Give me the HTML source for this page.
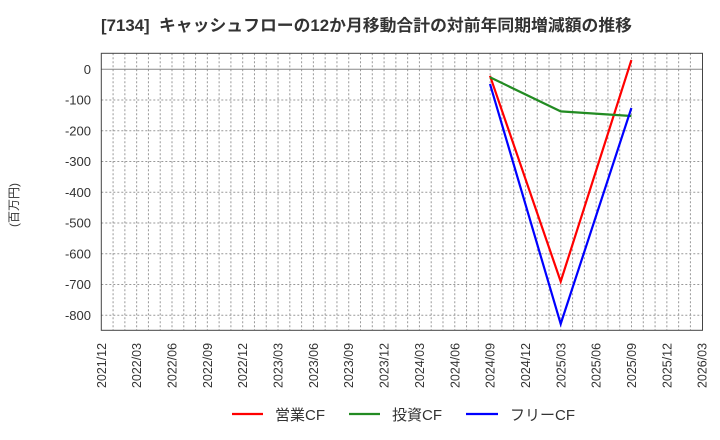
<!DOCTYPE html>
<html><head><meta charset="utf-8"><style>
html,body{margin:0;padding:0;background:#fff;}
svg{display:block;}
text{font-family:"Liberation Sans","Noto Sans CJK JP",sans-serif;}
</style></head><body>
<svg width="720" height="440" viewBox="0 0 720 440" xmlns="http://www.w3.org/2000/svg">
<rect width="720" height="440" fill="#fff"/>
<text x="101" y="31" font-size="16.5" font-weight="bold" fill="#333" textLength="531" lengthAdjust="spacingAndGlyphs">[7134]&#160; キャッシュフローの12か月移動合計の対前年同期増減額の推移</text>
<g id="vgrid" stroke="#999" stroke-width="1" stroke-dasharray="2,2"></g>
<g id="hgrid" stroke="#999" stroke-width="1" stroke-dasharray="2,2"></g>
<line x1="101.3" y1="69.3" x2="702.5" y2="69.3" stroke="#888" stroke-width="1"/>
<rect x="101.3" y="53.3" width="601.2" height="277" fill="none" stroke="#444" stroke-width="1"/>
<g id="ylab" font-size="13" fill="#333" text-anchor="end"></g>
<g id="xlab" font-size="12.5" fill="#333"></g>
<text transform="translate(18,205) rotate(-90)" font-size="12" fill="#333" text-anchor="middle">(百万円)</text>
<polyline points="490,75.8 560.7,281.5 631.4,60.1" fill="none" stroke="#ff0000" stroke-width="2.2"/>
<polyline points="490,77.3 560.7,111.4 631.4,116" fill="none" stroke="#228b22" stroke-width="2.2"/>
<polyline points="490,84 560.7,323.9 631.4,108" fill="none" stroke="#0000ff" stroke-width="2.2"/>
<line x1="232" y1="414" x2="263" y2="414" stroke="#ff0000" stroke-width="2.2"/>
<text x="275" y="420" font-size="15" fill="#333">営業CF</text>
<line x1="349" y1="414" x2="380" y2="414" stroke="#228b22" stroke-width="2.2"/>
<text x="392" y="420" font-size="15" fill="#333">投資CF</text>
<line x1="466" y1="414" x2="498" y2="414" stroke="#0000ff" stroke-width="2.2"/>
<text x="510" y="420" font-size="15" fill="#333">フリーCF</text>
</svg>
<script>
(function(){
var ns="http://www.w3.org/2000/svg";
var vg=document.getElementById('vgrid'),hg=document.getElementById('hgrid'),yl=document.getElementById('ylab'),xl=document.getElementById('xlab');
var x0=101.3,dx=600.9/51;
for(var m=1;m<51;m++){var l=document.createElementNS(ns,'line');var x=x0+m*dx;l.setAttribute('x1',x);l.setAttribute('x2',x);l.setAttribute('y1',53.3);l.setAttribute('y2',330.3);vg.appendChild(l);}
for(var v=0;v>=-800;v-=100){var y=69.3-v*0.3075;
 if(v!==0){var l=document.createElementNS(ns,'line');l.setAttribute('x1',x0);l.setAttribute('x2',702.5);l.setAttribute('y1',y);l.setAttribute('y2',y);hg.appendChild(l);}
 var t=document.createElementNS(ns,'text');t.setAttribute('x',91);t.setAttribute('y',y+4.5);t.textContent=String(v);yl.appendChild(t);}
var labs=[];var yr=2021,mo=12;
for(var i=0;i<=17;i++){labs.push(yr+'/'+(mo<10?'0'+mo:mo));mo+=3;if(mo>12){mo-=12;yr++;}}
for(var i=0;i<labs.length;i++){var x=x0+i*3*dx;var t=document.createElementNS(ns,'text');
 t.setAttribute('transform','translate('+(x+4.5)+',388) rotate(-90)');t.setAttribute('textLength','45');t.setAttribute('lengthAdjust','spacingAndGlyphs');t.textContent=labs[i];xl.appendChild(t);}
})();
</script>
</body></html>
